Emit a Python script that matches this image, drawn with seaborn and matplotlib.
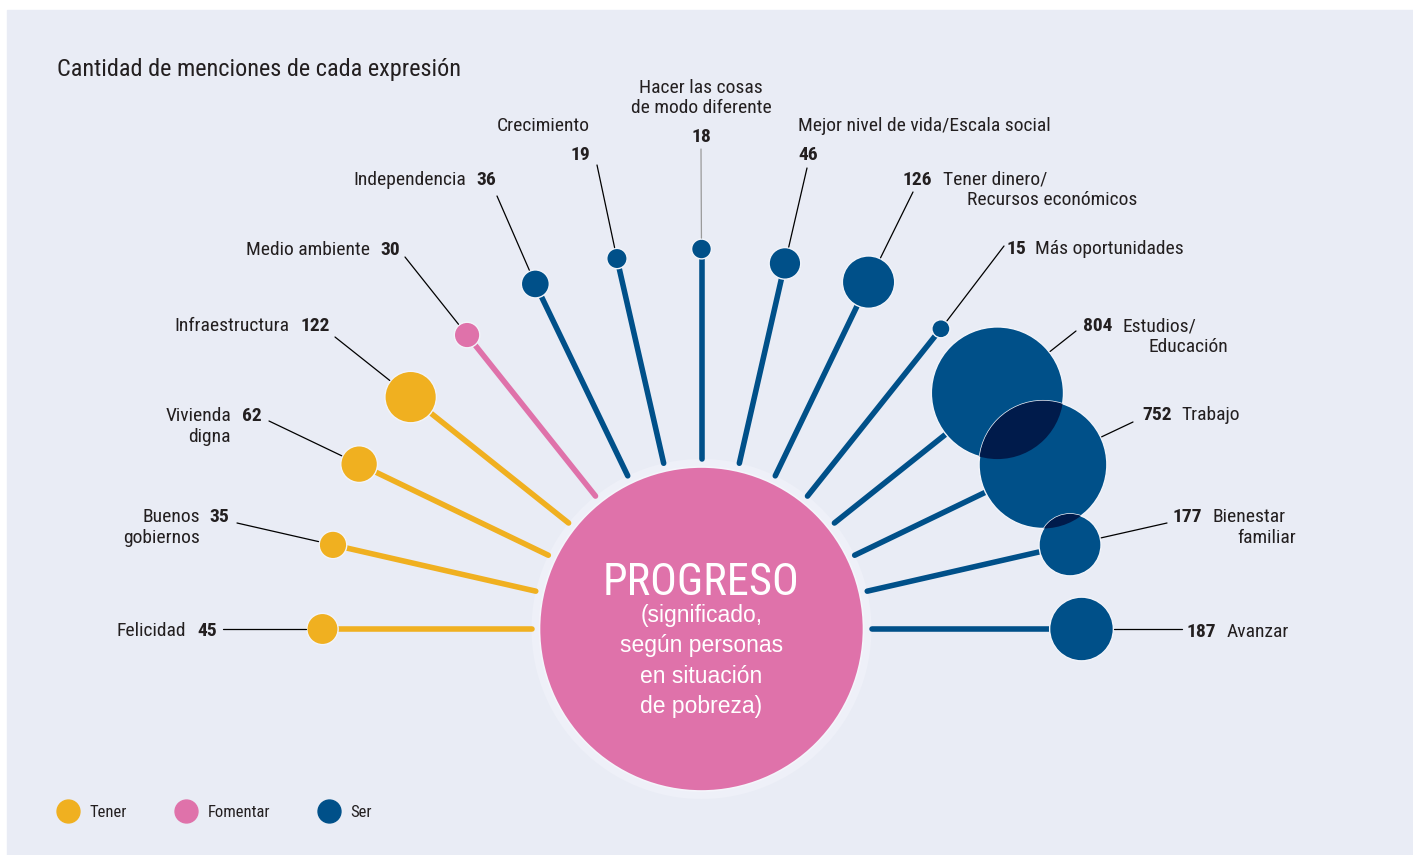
import numpy as np
import pandas as pd
import seaborn as sns
import matplotlib.pyplot as plt
from matplotlib.patches import Circle, Rectangle
from matplotlib.lines import Line2D

# data, ordered from left (180 deg) to right (0 deg)
labels = ['Felicidad', 'Buenos\ngobiernos', 'Vivienda\ndigna', 'Infraestructura',
          'Medio ambiente', 'Independencia', 'Crecimiento',
          'Hacer las cosas\nde modo diferente', 'Mejor nivel de vida/Escala social',
          'Tener dinero/\nRecursos económicos', 'Más oportunidades',
          'Estudios/\nEducación', 'Trabajo', 'Bienestar\nfamiliar', 'Avanzar']
values = [45, 35, 62, 122, 30, 36, 19, 18, 46, 126, 15, 804, 752, 177, 187]
groups = ['Tener'] * 4 + ['Fomentar'] + ['Ser'] * 10
group_names = ['Tener', 'Fomentar', 'Ser']
center_lines = ['PROGRESO', '(significado,', 'según personas', 'en situación', 'de pobreza)']
title = 'Cantidad de menciones de cada expresión'

# styling
colors = {'Tener': '#f0b020', 'Fomentar': '#df72aa', 'Ser': '#005089'}
overlap_color = '#001b4b'
bg = '#e9ecf5'
ink = '#231f20'

sns.set_style('white')
plt.rcParams['font.family'] = ['Roboto Condensed', 'Liberation Sans Narrow', 'DejaVu Sans']

# geometry (pixels)
W, H = 1413, 855
cx, cy, R0 = 701.5, 629, 162
# distance of each bubble from the centre, as drawn in the original
ring = [379, 378, 380, 372, 376, 383, 380, 380, 375, 385, 384, 378.5, 379, 378, 380]
spoke_in = 170
K = 2.33            # bubble radius = K * sqrt(value)

n = len(values)
ang = np.deg2rad(180 - np.arange(n) * 180 / (n - 1))
df = pd.DataFrame({'label': labels, 'value': values, 'grupo': groups})
df['x'] = cx + np.array(ring) * np.cos(ang)
df['y'] = cy - np.array(ring) * np.sin(ang)
df['r'] = K * np.sqrt(df['value'])

fig = plt.figure(figsize=(W / 100, H / 100), dpi=100, facecolor='white')
ax = fig.add_axes([0, 0, 1, 1])
ax.set_xlim(0, W)
ax.set_ylim(H, 0)
ax.axis('off')
ax.add_patch(Rectangle((7, 10), W, H, color=bg, zorder=0))

# light halo round the centre circle
ax.add_patch(Circle((cx, cy), R0 + 8, facecolor='#eef0f8', edgecolor='none', zorder=1))

# spokes
seg = pd.concat([
    pd.DataFrame({'label': df['label'], 'grupo': df['grupo'],
                  'x': cx + spoke_in * np.cos(ang), 'y': cy - spoke_in * np.sin(ang), 'k': 0}),
    pd.DataFrame({'label': df['label'], 'grupo': df['grupo'], 'x': df['x'], 'y': df['y'], 'k': 1}),
]).sort_values(['label', 'k'])
sns.lineplot(data=seg, x='x', y='y', units='label', estimator=None, hue='grupo',
             palette=colors, sort=False, lw=4, legend=False, ax=ax, zorder=2)

# centre circle
ax.add_patch(Circle((cx, cy), R0, facecolor=colors['Fomentar'], edgecolor='#f4f5fb', lw=1.2, zorder=3))

# bubbles (marker area proportional to value)
s_per = (1.44 * K) ** 2
sns.scatterplot(data=df, x='x', y='y', hue='grupo', palette=colors, size='value',
                sizes=(0, s_per * max(values)), size_norm=(0, max(values)),
                edgecolor='#f2f4fa', linewidth=1.0, legend=False, ax=ax, zorder=4)

# darker overlaps
for a, b in [(11, 12), (12, 13)]:
    clip = Circle((df.x[a], df.y[a]), df.r[a], transform=ax.transData)
    p = Circle((df.x[b], df.y[b]), df.r[b], facecolor=overlap_color, edgecolor='none', zorder=5)
    ax.add_patch(p)
    p.set_clip_path(clip)

# labels: number pos, name line positions, leader end
layout = [
    ((197, 636, 'left'), [(186, 636, 'right')], (223, 629)),
    ((209, 522, 'left'), [(200, 522, 'right'), (200, 543, 'right')], (237, 523)),
    ((242, 421, 'left'), [(231, 421, 'right'), (231, 442, 'right')], (269, 421)),
    ((300, 331, 'left'), [(289, 331, 'right')], (335, 337)),
    ((380, 255, 'left'), [(370, 255, 'right')], (405, 257)),
    ((476, 185, 'left'), [(466, 185, 'right')], (497, 196)),
    ((590, 160, 'right'), [(590, 131, 'right')], (597, 165)),
    ((701, 142, 'center'), [(701, 93, 'center'), (701, 113, 'center')], (701, 149)),
    ((798, 160, 'left'), [(798, 131, 'left')], (807, 168)),
    ((903, 185, 'left'), [(943, 185, 'left'), (967, 205, 'left')], (913, 192)),
    ((1006, 254, 'left'), [(1035, 254, 'left')], (1004, 246)),
    ((1083, 331, 'left'), [(1123, 331, 'left'), (1148, 352, 'left')], (1076, 331)),
    ((1142, 420, 'left'), [(1181, 420, 'left')], (1133, 422)),
    ((1173, 522, 'left'), [(1212, 522, 'left'), (1237, 543, 'left')], (1167, 523)),
    ((1187, 637, 'left'), [(1227, 637, 'left')], (1182, 629)),
]
fs = 14
for i, (num, names, lead) in enumerate(layout):
    ax.text(num[0], num[1], str(values[i]), ha=num[2], va='baseline', fontsize=fs,
            fontweight='bold', color=ink, zorder=6)
    for (tx, ty, ha), line in zip(names, labels[i].split('\n')):
        ax.text(tx, ty, line, ha=ha, va='baseline', fontsize=fs, color=ink, zorder=6)
    dx, dy = lead[0] - df.x[i], lead[1] - df.y[i]
    d = np.hypot(dx, dy)
    x0 = df.x[i] + dx / d * (df.r[i] + 1)
    y0 = df.y[i] + dy / d * (df.r[i] + 1)
    ax.plot([x0, lead[0]], [y0, lead[1]], color='#9a9a9a' if i == 7 else 'black',
            lw=0.9, zorder=6)

# centre text
ax.text(cx, 595, center_lines[0], ha='center', va='baseline', fontsize=32, color='white', zorder=6)
for k, line in enumerate(center_lines[1:]):
    ax.text(cx, 622 + k * 30.3, line, ha='center', va='baseline', fontsize=16.5,
            color='white', family=['Liberation Sans', 'DejaVu Sans'], zorder=6)

ax.text(57, 76, title, ha='left', va='baseline', fontsize=17.5, color=ink)

# legend
handles = [Line2D([], [], marker='o', ls='', markersize=16.5, markerfacecolor=colors[g],
                  markeredgecolor=colors[g]) for g in group_names]
ax.legend(handles, group_names, loc='center left', bbox_to_anchor=(56 / W, 1 - 812 / H),
          ncol=3, frameon=False, fontsize=12, handlelength=1.4, handletextpad=0.63,
          columnspacing=2.8, borderpad=0, borderaxespad=0, labelcolor=ink)

fig.savefig('out.png', dpi=100, facecolor='white')
